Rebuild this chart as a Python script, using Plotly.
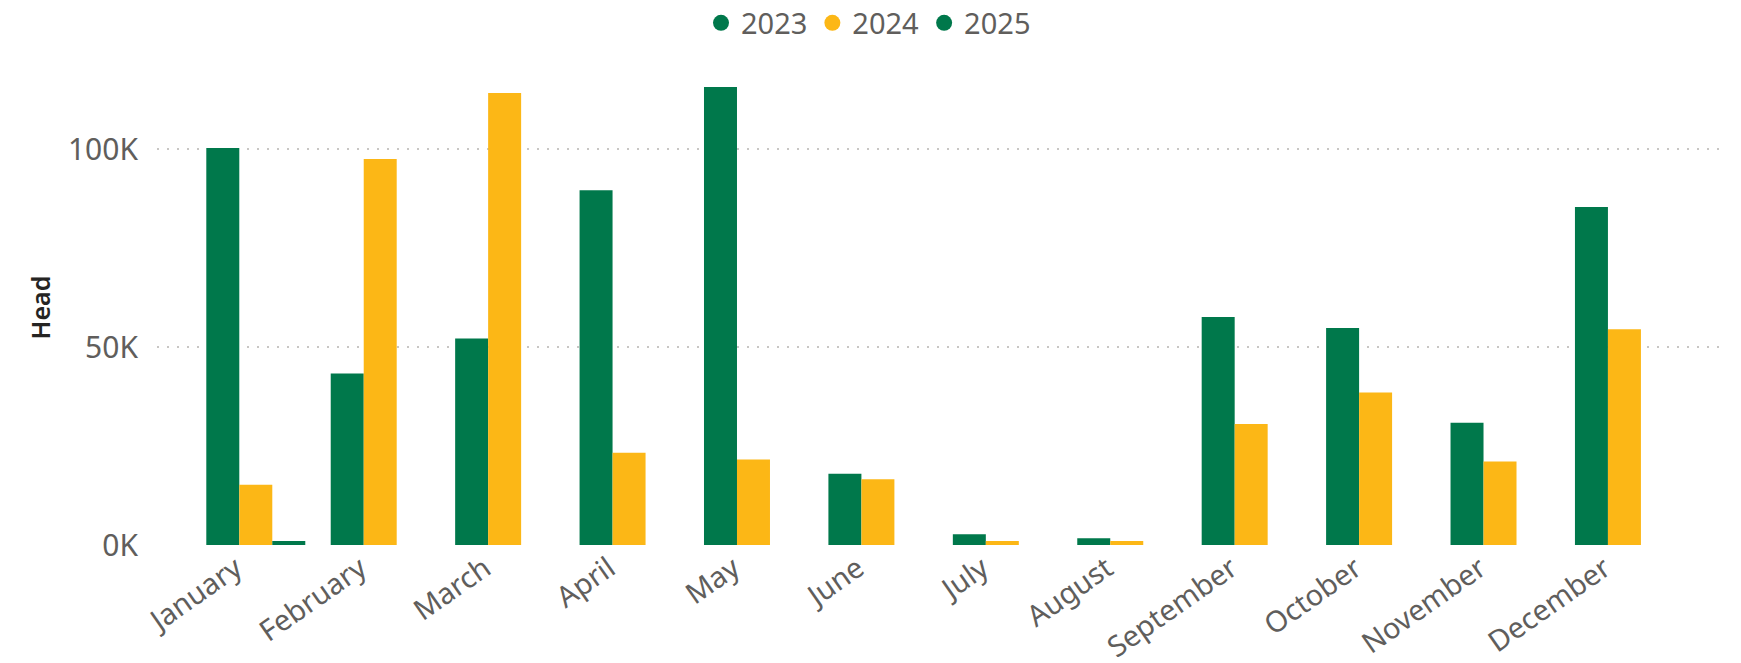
import plotly.graph_objects as go

months = ["January", "February", "March", "April", "May", "June", "July",
          "August", "September", "October", "November", "December"]
series_names = ["2023", "2024", "2025"]
values_2023 = [100300, 43300, 52200, 89600, 115700, 18000, 2700, 1700, 57600, 54800, 30900, 85400]
values_2024 = [15200, 97500, 114200, 23300, 21600, 16600, 1000, 1000, 30600, 38500, 21100, 54500]
values_2025 = [1000, None, None, None, None, None, None, None, None, None, None, None]
y_tick_vals = [0, 50000, 100000]
y_tick_text = ["0K", "50K", "100K"]
y_title = "Head"

GREEN = "#00784B"
YELLOW = "#FCB716"
colors = [GREEN, YELLOW, GREEN]
FONT = "Noto Sans"
GRAY = "#605E5C"

fig = go.Figure()
for name, vals, col in zip(series_names, [values_2023, values_2024, values_2025], colors):
    fig.add_trace(go.Bar(x=months, y=vals, name=name, marker=dict(color=col, line=dict(width=0)),
                         showlegend=False))
# legend entries with circular markers
for name, col in zip(series_names, colors):
    fig.add_trace(go.Scatter(x=[None], y=[None], mode="markers", name=name,
                             marker=dict(color=col, size=20, symbol="circle"),
                             showlegend=True))

fig.update_layout(
    width=1741, height=663,
    margin=dict(l=157, r=22, t=70, b=118, autoexpand=False),
    paper_bgcolor="white", plot_bgcolor="white",
    barmode="group", bargap=0.2045, bargroupgap=0,
    font=dict(family=FONT, color=GRAY, size=28),
    legend=dict(orientation="h", xref="container", yref="container",
                x=0.5 - 2 / 1741, xanchor="center", y=1 - 23 / 663, yanchor="middle",
                font=dict(size=29, color=GRAY), itemwidth=30,
                tracegroupgap=0, bgcolor="rgba(0,0,0,0)"),
    xaxis=dict(type="category", range=[-0.794, 11.76], tickangle=-35, automargin=False,
               showgrid=False, zeroline=False, showline=False, ticks="",
               ticklabelshift=-20,
               tickfont=dict(size=29, color=GRAY, family=FONT)),
    yaxis=dict(range=[0, 120000], tickvals=y_tick_vals, ticktext=y_tick_text, automargin=False,
               showgrid=True, gridcolor="#C8C6C4", gridwidth=2, griddash="2px,8px",
               zeroline=False, showline=False, ticks="", ticklabelstandoff=18,
               tickfont=dict(size=30, color=GRAY, family=FONT),
               title=dict(text=y_title, standoff=10,
                          font=dict(size=25, color="#252423", family=FONT, weight=600))),
)

fig.write_html("out.html", config={"displayModeBar": False},
               post_script="document.body.style.margin='0';document.body.style.overflow='hidden';")
